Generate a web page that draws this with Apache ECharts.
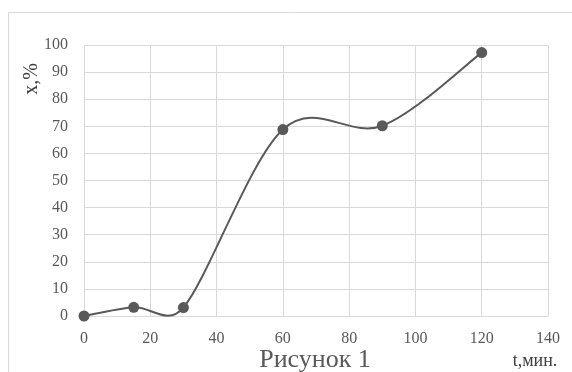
<!DOCTYPE html>
<html>
<head>
<meta charset="utf-8">
<script src="https://cdn.jsdelivr.net/npm/echarts@6/dist/echarts.min.js"></script>
<style>
  html, body { margin: 0; padding: 0; background: #fff; }
  #chart { width: 572px; height: 372px; }
</style>
</head>
<body>
<div id="chart"></div>
<script>
// Conversion x (%) against time t (minutes)
var timeMin = [0, 15, 30, 60, 90, 120];
var conversion = [0, 3.2, 3.1, 68.8, 70.2, 97.2];
var xTicks = [0, 20, 40, 60, 80, 100, 120, 140];
var yTicks = [0, 10, 20, 30, 40, 50, 60, 70, 80, 90, 100];

var points = timeMin.map(function (t, i) { return [t, conversion[i]]; });
var serif = '"Liberation Serif", "Times New Roman", serif';
var lineColor = '#595959';

function dist(a, b) {
  return Math.sqrt((a[0] - b[0]) * (a[0] - b[0]) + (a[1] - b[1]) * (a[1] - b[1]));
}

// Tangent factor: 1/6 of the chord, but never longer than half the segment.
function tangentFactor(chord, seg) {
  if (chord === 0) return 0;
  return chord / 6 > seg / 2 ? seg / (2 * chord) : 1 / 6;
}

// Each item draws the cubic segment from its point to the next one,
// with control points taken from the neighbouring points.
function renderSegment(params, api) {
  var i = params.dataIndex;
  var n = points.length;
  if (i >= n - 1) return null;
  var p0 = api.coord(points[Math.max(i - 1, 0)]);
  var p1 = api.coord(points[i]);
  var p2 = api.coord(points[i + 1]);
  var p3 = api.coord(points[Math.min(i + 2, n - 1)]);
  var seg = dist(p1, p2);
  var f1 = tangentFactor(dist(p0, p2), seg);
  var f2 = tangentFactor(dist(p1, p3), seg);
  return {
    type: 'bezierCurve',
    shape: {
      x1: p1[0], y1: p1[1],
      x2: p2[0], y2: p2[1],
      cpx1: p1[0] + (p2[0] - p0[0]) * f1,
      cpy1: p1[1] + (p2[1] - p0[1]) * f1,
      cpx2: p2[0] - (p3[0] - p1[0]) * f2,
      cpy2: p2[1] - (p3[1] - p1[1]) * f2
    },
    style: { stroke: lineColor, lineWidth: 2, fill: null, lineCap: 'round' }
  };
}

var chart = echarts.init(document.getElementById('chart'), null, { renderer: 'canvas' });
chart.setOption({
  animation: false,
  backgroundColor: '#ffffff',
  grid: { left: 84, top: 45, width: 464, height: 271, containLabel: false },
  xAxis: {
    type: 'value',
    min: xTicks[0],
    max: xTicks[xTicks.length - 1],
    interval: 20,
    axisLine: { show: true, lineStyle: { color: '#d9d9d9', width: 1 } },
    axisTick: { show: false },
    splitLine: { show: true, lineStyle: { color: '#d9d9d9', width: 1 } },
    axisLabel: { color: '#595959', fontFamily: serif, fontSize: 16, margin: 15 }
  },
  yAxis: {
    type: 'value',
    min: yTicks[0],
    max: yTicks[yTicks.length - 1],
    interval: 10,
    axisLine: { show: false },
    axisTick: { show: false },
    splitLine: { show: true, lineStyle: { color: '#d9d9d9', width: 1 } },
    axisLabel: { color: '#595959', fontFamily: serif, fontSize: 16, margin: 16 }
  },
  graphic: [
    {
      type: 'rect', silent: true, z: -1,
      shape: { x: 8.5, y: 12.5, width: 700, height: 500 },
      style: { fill: 'none', stroke: '#d9d9d9', lineWidth: 1 }
    },
    {
      type: 'text', x: 32, y: 79, rotation: Math.PI / 2,
      style: { text: 'x,%', fill: '#404040', font: '20px ' + serif, align: 'center', verticalAlign: 'middle' }
    },
    {
      type: 'text', x: 315, y: 360,
      style: { text: 'Рисунок 1', fill: '#595959', font: '26px ' + serif, align: 'center', verticalAlign: 'middle' }
    },
    {
      type: 'text', x: 535, y: 361,
      style: { text: 't,мин.', fill: '#404040', font: '18px ' + serif, align: 'center', verticalAlign: 'middle' }
    }
  ],
  series: [
    {
      type: 'custom',
      data: points,
      encode: { x: 0, y: 1 },
      renderItem: renderSegment,
      clip: false,
      silent: true,
      z: 2
    },
    {
      type: 'scatter',
      data: points,
      symbol: 'circle',
      symbolSize: 11,
      itemStyle: { color: lineColor, opacity: 1 },
      z: 3
    }
  ]
});
</script>
</body>
</html>
